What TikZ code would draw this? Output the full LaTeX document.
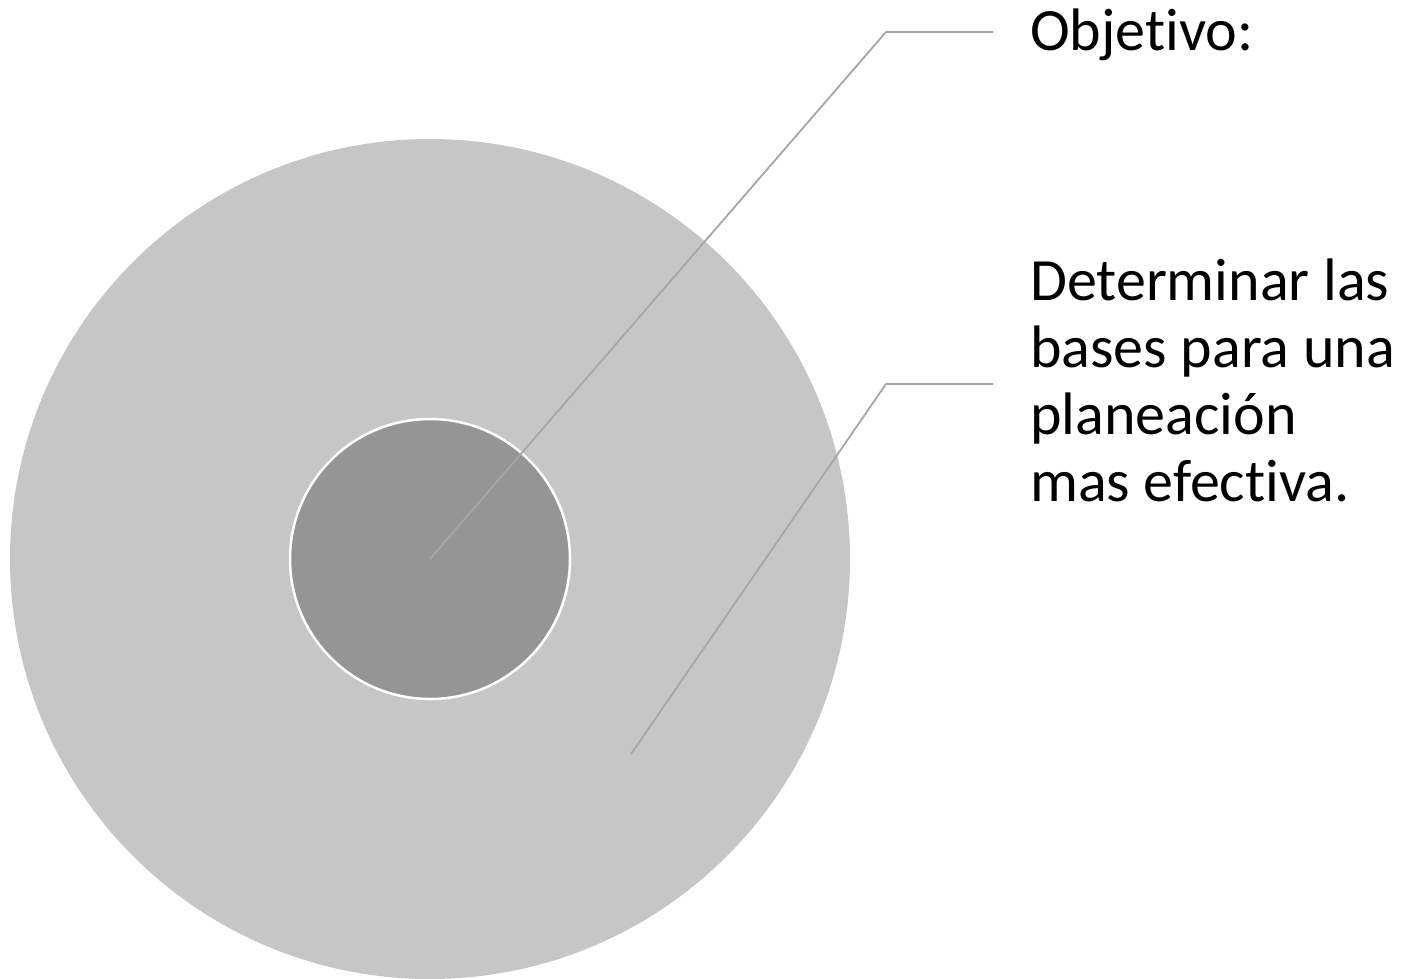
\documentclass[tikz,border=0pt]{standalone}
\usepackage{fontspec}
\setmainfont{Carlito}[Ligatures=NoCommon]
\usepackage{xcolor}
\usepackage{tikz}
\usetikzlibrary{positioning}
\definecolor{ringgray}{HTML}{C6C6C6}
\definecolor{coregray}{HTML}{959595}
\definecolor{leadgray}{HTML}{A6A6A6}

\begin{document}
\begin{tikzpicture}[x=1pt,y=-1pt,
  ring/.style={circle,inner sep=0pt,fill=ringgray,minimum size=840pt},
  core/.style={circle,inner sep=0pt,fill=coregray,draw=white,line width=2.5pt,minimum size=280pt},
  leader/.style={draw=leadgray,line width=1.8pt},
  lbl/.style={inner sep=0pt,align=left,font=\fontsize{60}{67}\selectfont}]
  \useasboundingbox (0,0) rectangle (1406,978);
  \node[ring] (outer) at (430,559) {};
  \node[core] (inner) at (430,559) {};
  % leader knees and ends
  \coordinate (k1) at (886,32);
  \coordinate (e1) at (993,32);
  \coordinate (p2) at (631,754);
  \coordinate (k2) at (886,384);
  \coordinate (e2) at (993,384);
  \draw[leader] (inner.center) -- (k1) -- (e1);
  \draw[leader] (p2) -- (k2) -- (e2);
  \node[lbl,anchor=base west] (obj) at (1030,50) {Objetivo:};
  \node[lbl,anchor=base west] (desc) at (1030,501)
    {Determinar las\\bases para una\\planeación\\mas efectiva.};
\end{tikzpicture}
\end{document}
